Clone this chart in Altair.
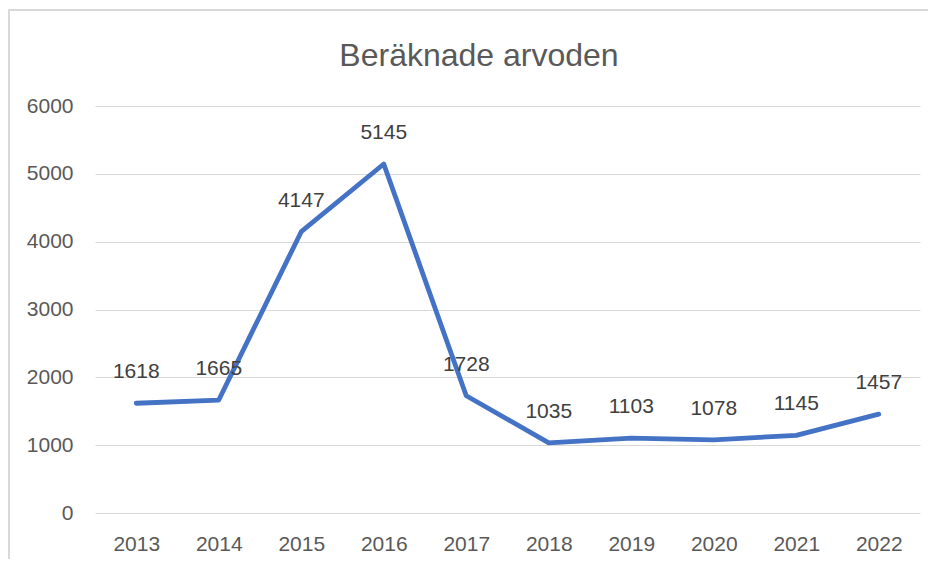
import altair as alt
import pandas as pd

title_text = "Beräknade arvoden"
years = ["2013", "2014", "2015", "2016", "2017", "2018", "2019", "2020", "2021", "2022"]
values = [1618, 1665, 4147, 5145, 1728, 1035, 1103, 1078, 1145, 1457]
y_ticks = [0, 1000, 2000, 3000, 4000, 5000, 6000]

df = pd.DataFrame({"year": years, "value": values})

FONT = "Liberation Sans"
LINE_COLOR = "#4472C4"
GRID = "#D9D9D9"

x = alt.X(
    "year:O",
    sort=years,
    scale=alt.Scale(type="point", padding=0.5),
    axis=alt.Axis(
        title=None, labelAngle=0, domain=False, ticks=False, grid=False,
        labelFont=FONT, labelFontSize=21, labelColor="#595959", labelPadding=20,
    ),
)
y = alt.Y(
    "value:Q",
    scale=alt.Scale(domain=[0, 6000], nice=False),
    axis=alt.Axis(
        title=None, values=y_ticks, domain=False, ticks=False, grid=True,
        gridColor=GRID, gridWidth=1, labelFont=FONT, labelFontSize=21,
        labelColor="#595959", labelPadding=22, format="d",
    ),
)

base = alt.Chart(df)

line = base.mark_line(
    color=LINE_COLOR, strokeWidth=4.8, strokeCap="round", strokeJoin="round"
).encode(x=x, y=y)

labels = base.mark_text(
    font=FONT, fontSize=21, color="#404040", dy=-31, baseline="middle", align="center"
).encode(x=alt.X("year:O", sort=years), y="value:Q", text=alt.Text("value:Q", format="d"))

frame = alt.Chart(alt.Data(values=[{"a": 1}])).mark_rect(
    fill=None, stroke=GRID, strokeWidth=2
).encode(
    x=alt.value(-86), x2=alt.value(900), y=alt.value(-96), y2=alt.value(600)
)

title = alt.Chart(alt.Data(values=[{"t": title_text}])).mark_text(
    font=FONT, fontSize=32, color="#595959", baseline="alphabetic", align="center"
).encode(text="t:N", x=alt.value(384), y=alt.value(-40))

chart = alt.layer(frame, title, line, labels).properties(
    width=825,
    height=407,
    autosize=alt.AutoSizeParams(type="none"),
    padding={"left": 87, "top": 98, "right": 8, "bottom": 46},
).configure_view(stroke=None)

chart.save("out.html", embed_options={"renderer": "svg", "actions": False})
